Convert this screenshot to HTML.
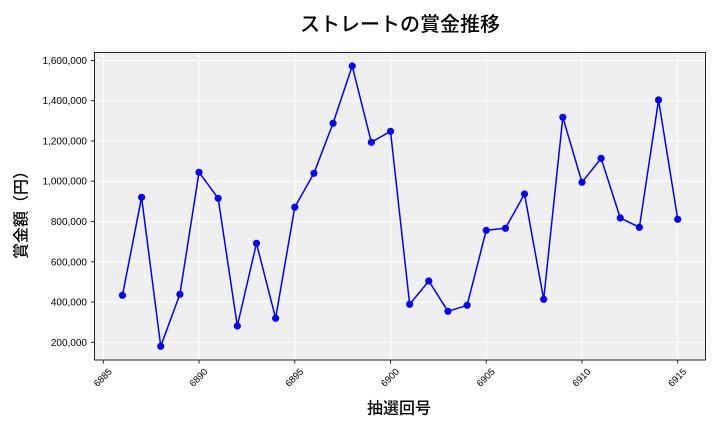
<!DOCTYPE html>
<html><head><meta charset="utf-8">
<style>
html,body{margin:0;padding:0;background:#fff;}
svg{display:block;}
text{font-family:"Liberation Sans","Noto Sans CJK JP",sans-serif;fill:#000;}
</style></head>
<body>
<svg width="720" height="432" viewBox="0 0 720 432" xmlns="http://www.w3.org/2000/svg">
<rect x="0" y="0" width="720" height="432" fill="#fff"/>
<rect x="94.5" y="52.5" width="611" height="307.5" fill="#efefef"/>
<g stroke="#fff" stroke-width="1">
<line x1="94.5" x2="705.5" y1="60.5" y2="60.5"/>
<line x1="94.5" x2="705.5" y1="100.7" y2="100.7"/>
<line x1="94.5" x2="705.5" y1="141" y2="141"/>
<line x1="94.5" x2="705.5" y1="181.2" y2="181.2"/>
<line x1="94.5" x2="705.5" y1="221.5" y2="221.5"/>
<line x1="94.5" x2="705.5" y1="261.8" y2="261.8"/>
<line x1="94.5" x2="705.5" y1="302" y2="302"/>
<line x1="94.5" x2="705.5" y1="342.3" y2="342.3"/>
<line y1="52.5" y2="360" x1="103.3" x2="103.3"/>
<line y1="52.5" y2="360" x1="199.04" x2="199.04"/>
<line y1="52.5" y2="360" x1="294.77" x2="294.77"/>
<line y1="52.5" y2="360" x1="390.51" x2="390.51"/>
<line y1="52.5" y2="360" x1="486.24" x2="486.24"/>
<line y1="52.5" y2="360" x1="581.97" x2="581.97"/>
<line y1="52.5" y2="360" x1="677.71" x2="677.71"/>
</g>
<polyline fill="none" stroke="#0000ff" stroke-width="1.5" stroke-linejoin="round" points="122.45,295.3 141.59,197.3 160.74,346.3 179.89,294.3 199.04,172.3 218.18,198.3 237.33,326 256.48,243.3 275.62,318.3 294.77,207.2 313.92,173.3 333.06,123.3 352.21,66 371.36,142.3 390.51,131.3 409.65,304.3 428.8,281 447.95,311.3 467.09,305.3 486.24,230.3 505.39,228.3 524.53,194 543.68,299.3 562.83,117.3 581.97,182.3 601.12,158.3 620.27,218 639.41,227.3 658.56,100 677.71,219.3"/>
<g fill="#0000ff">
<circle cx="122.45" cy="295.3" r="3.6"/>
<circle cx="141.59" cy="197.3" r="3.6"/>
<circle cx="160.74" cy="346.3" r="3.6"/>
<circle cx="179.89" cy="294.3" r="3.6"/>
<circle cx="199.04" cy="172.3" r="3.6"/>
<circle cx="218.18" cy="198.3" r="3.6"/>
<circle cx="237.33" cy="326" r="3.6"/>
<circle cx="256.48" cy="243.3" r="3.6"/>
<circle cx="275.62" cy="318.3" r="3.6"/>
<circle cx="294.77" cy="207.2" r="3.6"/>
<circle cx="313.92" cy="173.3" r="3.6"/>
<circle cx="333.06" cy="123.3" r="3.6"/>
<circle cx="352.21" cy="66" r="3.6"/>
<circle cx="371.36" cy="142.3" r="3.6"/>
<circle cx="390.51" cy="131.3" r="3.6"/>
<circle cx="409.65" cy="304.3" r="3.6"/>
<circle cx="428.8" cy="281" r="3.6"/>
<circle cx="447.95" cy="311.3" r="3.6"/>
<circle cx="467.09" cy="305.3" r="3.6"/>
<circle cx="486.24" cy="230.3" r="3.6"/>
<circle cx="505.39" cy="228.3" r="3.6"/>
<circle cx="524.53" cy="194" r="3.6"/>
<circle cx="543.68" cy="299.3" r="3.6"/>
<circle cx="562.83" cy="117.3" r="3.6"/>
<circle cx="581.97" cy="182.3" r="3.6"/>
<circle cx="601.12" cy="158.3" r="3.6"/>
<circle cx="620.27" cy="218" r="3.6"/>
<circle cx="639.41" cy="227.3" r="3.6"/>
<circle cx="658.56" cy="100" r="3.6"/>
<circle cx="677.71" cy="219.3" r="3.6"/>
</g>
<rect x="94.5" y="52.5" width="611" height="307.5" fill="none" stroke="#222" stroke-width="1"/>
<g stroke="#222" stroke-width="1">
<line x1="91" x2="94.5" y1="60.5" y2="60.5"/>
<line x1="91" x2="94.5" y1="100.7" y2="100.7"/>
<line x1="91" x2="94.5" y1="141" y2="141"/>
<line x1="91" x2="94.5" y1="181.2" y2="181.2"/>
<line x1="91" x2="94.5" y1="221.5" y2="221.5"/>
<line x1="91" x2="94.5" y1="261.8" y2="261.8"/>
<line x1="91" x2="94.5" y1="302" y2="302"/>
<line x1="91" x2="94.5" y1="342.3" y2="342.3"/>
<line y1="360" y2="363.5" x1="103.3" x2="103.3"/>
<line y1="360" y2="363.5" x1="199.04" x2="199.04"/>
<line y1="360" y2="363.5" x1="294.77" x2="294.77"/>
<line y1="360" y2="363.5" x1="390.51" x2="390.51"/>
<line y1="360" y2="363.5" x1="486.24" x2="486.24"/>
<line y1="360" y2="363.5" x1="581.97" x2="581.97"/>
<line y1="360" y2="363.5" x1="677.71" x2="677.71"/>
</g>
<g font-size="10" text-anchor="end">
<text x="87" y="64">1,600,000</text>
<text x="87" y="104.2">1,400,000</text>
<text x="87" y="144.5">1,200,000</text>
<text x="87" y="184.7">1,000,000</text>
<text x="87" y="225">800,000</text>
<text x="87" y="265.3">600,000</text>
<text x="87" y="305.5">400,000</text>
<text x="87" y="345.8">200,000</text>
</g>
<g font-size="9.5" text-anchor="middle" dominant-baseline="central">
<text transform="translate(103.3,378) rotate(-45)">6885</text>
<text transform="translate(199.04,378) rotate(-45)">6890</text>
<text transform="translate(294.77,378) rotate(-45)">6895</text>
<text transform="translate(390.51,378) rotate(-45)">6900</text>
<text transform="translate(486.24,378) rotate(-45)">6905</text>
<text transform="translate(581.97,378) rotate(-45)">6910</text>
<text transform="translate(677.71,378) rotate(-45)">6915</text>
</g>
<text x="400" y="31" font-size="20" text-anchor="middle" font-weight="500">ストレートの賞金推移</text>
<text x="399" y="413.5" font-size="16" text-anchor="middle" font-weight="500">抽選回号</text>
<text transform="translate(22,211) rotate(-90)" font-size="16" text-anchor="middle" dominant-baseline="central" font-weight="500">賞金額（円）</text>
</svg>
</body></html>
